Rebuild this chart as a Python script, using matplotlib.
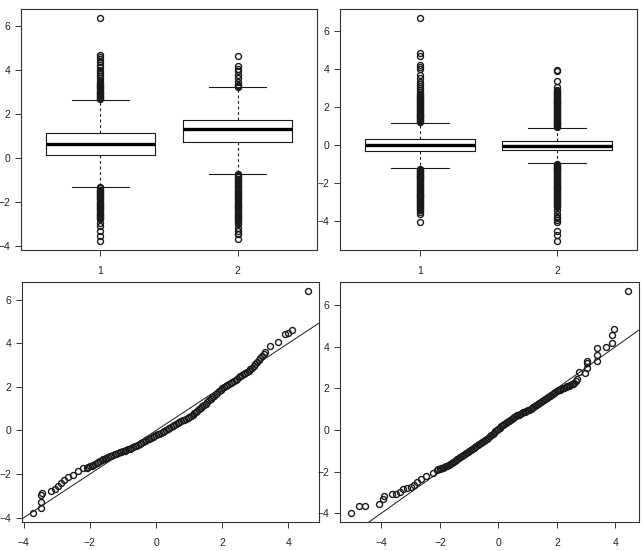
import matplotlib
matplotlib.use('Agg')
import matplotlib.pyplot as plt
from matplotlib.ticker import MultipleLocator

plt.rcParams['font.family'] = 'Liberation Sans'
plt.rcParams['font.size'] = 7.5

#%% box plot summaries (top row)

# left panel, groups 1 and 2
tl_med = [0.62, 1.29]
tl_q1 = [0.14, 0.71]
tl_q3 = [1.14, 1.71]
tl_lo = [-1.35, -0.75]
tl_hi = [2.63, 3.20]
tl_fliers_1 = [2.65, 2.7, 2.75, 2.8, 2.85, 2.9, 2.95, 3.0, 3.05, 3.1, 3.15, 3.2, 3.25, 3.3, 3.35, 3.4,
               3.5, 3.6, 3.7, 3.78, 3.89, 4.0, 4.12, 4.19, 4.35, 4.5, 4.58, 4.65, 6.35,
               -1.35, -1.4, -1.45, -1.5, -1.55, -1.6, -1.65, -1.7, -1.75, -1.8, -1.85, -1.9, -1.95,
               -2.0, -2.05, -2.1, -2.15, -2.2, -2.25, -2.3, -2.35, -2.4, -2.45, -2.5, -2.55, -2.6,
               -2.65, -2.7, -2.75, -2.8, -2.95, -3.1, -3.33, -3.56, -3.79]
tl_fliers_2 = [3.22, 3.26, 3.3, 3.43, 3.61, 3.76, 3.92, 4.04, 4.17, 4.62,
               -0.75, -0.8, -0.85, -0.9, -0.95, -1.0, -1.05, -1.1, -1.15, -1.2, -1.25, -1.3, -1.35,
               -1.4, -1.45, -1.5, -1.55, -1.6, -1.65, -1.7, -1.75, -1.8, -1.85, -1.9, -1.95, -2.0,
               -2.05, -2.1, -2.15, -2.2, -2.25, -2.3, -2.35, -2.4, -2.45, -2.5, -2.55, -2.6, -2.65,
               -2.7, -2.75, -2.8, -2.85, -2.9, -2.95, -3.0, -3.18, -3.33, -3.45, -3.48, -3.7]

# right panel, groups 1 and 2
tr_med = [0.0, -0.04]
tr_q1 = [-0.32, -0.28]
tr_q3 = [0.30, 0.19]
tr_lo = [-1.23, -0.96]
tr_hi = [1.17, 0.91]
tr_fliers_1 = [1.2, 1.25, 1.3, 1.35, 1.4, 1.45, 1.5, 1.55, 1.6, 1.65, 1.7, 1.75, 1.8, 1.85, 1.9,
               1.95, 2.0, 2.05, 2.1, 2.15, 2.2, 2.25, 2.3, 2.35, 2.4, 2.45, 2.5, 2.55, 2.6,
               2.7, 2.8, 2.9, 3.0, 3.1, 3.2, 3.3, 3.5, 3.68, 4.0, 4.12, 4.2, 4.65, 4.83, 6.67,
               -1.25, -1.3, -1.35, -1.4, -1.45, -1.5, -1.55, -1.6, -1.65, -1.7, -1.75, -1.8, -1.85,
               -1.9, -1.95, -2.0, -2.05, -2.1, -2.15, -2.2, -2.25, -2.3, -2.35, -2.4, -2.45, -2.5,
               -2.55, -2.6, -2.65, -2.7, -2.75, -2.8, -2.85, -2.9, -2.95, -3.0, -3.05, -3.1, -3.15,
               -3.2, -3.25, -3.3, -3.35, -3.42, -3.5, -3.6, -4.04]
tr_fliers_2 = [0.93, 0.98, 1.03, 1.08, 1.13, 1.18, 1.23, 1.28, 1.33, 1.38, 1.43, 1.48, 1.53, 1.58,
               1.63, 1.68, 1.73, 1.78, 1.83, 1.88, 1.93, 1.98, 2.03, 2.08, 2.13, 2.18, 2.23, 2.28,
               2.33, 2.38, 2.43, 2.48, 2.53, 2.58, 2.63, 2.68, 2.73, 2.78, 2.83, 2.9, 3.07, 3.38, 3.86, 3.92,
               -0.98, -1.03, -1.08, -1.13, -1.18, -1.23, -1.28, -1.33, -1.38, -1.43, -1.48, -1.53,
               -1.58, -1.63, -1.68, -1.73, -1.78, -1.83, -1.88, -1.93, -1.98, -2.03, -2.08, -2.13,
               -2.18, -2.23, -2.28, -2.33, -2.38, -2.43, -2.48, -2.53, -2.58, -2.63, -2.68, -2.73,
               -2.78, -2.83, -2.88, -2.93, -2.98, -3.03, -3.08, -3.13, -3.18, -3.26, -3.42, -3.6,
               -3.77, -3.85, -3.95, -4.04, -4.5, -4.74, -5.04]

#%% normal QQ points (bottom row)

# left panel: sparse tails first, then the dense middle of the curve
bl_theo = [-3.72, -3.47, -3.47, -3.47, -3.44, -3.17, -3.07, -2.97, -2.87, -2.79, -2.67, -2.52,
           -2.35, -2.22, -2.10,
           3.44, 3.67, 3.89, 4.0, 4.1, 4.59,
           -2.05, -2.0, -1.95, -1.9, -1.85, -1.8, -1.75, -1.7, -1.65, -1.6, -1.55, -1.5, -1.45,
           -1.4, -1.35, -1.3, -1.25, -1.2, -1.15, -1.1, -1.05, -1.0, -0.95, -0.9, -0.85, -0.8,
           -0.75, -0.7, -0.65, -0.6, -0.55, -0.5, -0.45, -0.4, -0.35, -0.3, -0.25, -0.2, -0.15,
           -0.1, -0.05, 0.0, 0.05, 0.1, 0.15, 0.2, 0.25, 0.3, 0.35, 0.4, 0.45, 0.5, 0.55, 0.6,
           0.65, 0.7, 0.75, 0.8, 0.85, 0.9, 0.95, 1.0, 1.05, 1.1, 1.15, 1.2, 1.25, 1.3, 1.35,
           1.4, 1.45, 1.5, 1.55, 1.6, 1.65, 1.7, 1.75, 1.8, 1.85, 1.9, 1.95, 2.0, 2.05, 2.1,
           2.15, 2.2, 2.25, 2.3, 2.35, 2.4, 2.45, 2.5, 2.55, 2.6, 2.65, 2.7, 2.75, 2.8, 2.85,
           2.9, 2.95, 3.0, 3.05, 3.1, 3.15, 3.2, 3.25, 3.3]
bl_samp = [-3.79, -3.56, -3.28, -2.98, -2.85, -2.78, -2.67, -2.55, -2.40, -2.25, -2.14, -2.03,
           -1.84, -1.73, -1.70,
           3.85, 4.06, 4.41, 4.45, 4.60, 6.40,
           -1.68, -1.65, -1.61, -1.58, -1.54, -1.50, -1.46, -1.42, -1.37, -1.33, -1.29, -1.25,
           -1.21, -1.18, -1.15, -1.12, -1.09, -1.06, -1.03, -1.01, -0.98, -0.96, -0.93, -0.90,
           -0.87, -0.84, -0.80, -0.76, -0.72, -0.69, -0.65, -0.62, -0.57, -0.53, -0.49, -0.45,
           -0.41, -0.37, -0.33, -0.30, -0.26, -0.22, -0.18, -0.14, -0.10, -0.06, -0.02, 0.03,
           0.07, 0.12, 0.16, 0.21, 0.25, 0.29, 0.33, 0.38, 0.42, 0.46, 0.50, 0.54, 0.58, 0.62,
           0.67, 0.73, 0.79, 0.85, 0.91, 0.97, 1.03, 1.10, 1.16, 1.23, 1.30, 1.38, 1.45, 1.52,
           1.59, 1.66, 1.73, 1.80, 1.87, 1.93, 1.98, 2.03, 2.08, 2.13, 2.18, 2.23, 2.28, 2.33,
           2.38, 2.43, 2.48, 2.53, 2.58, 2.63, 2.68, 2.74, 2.81, 2.88, 2.96, 3.05, 3.13, 3.22,
           3.31, 3.40, 3.52, 3.60]

# right panel: sparse tails first, then the dense middle of the curve
br_theo = [-5.04, -4.78, -4.57, -4.09, -3.94, -3.92, -3.63, -3.52, -3.37, -3.26, -3.12, -3.0,
           -2.89, -2.78, -2.66, -2.46, -2.25, -2.1,
           2.77, 2.95, 3.03, 3.03, 3.04, 3.38, 3.38, 3.38, 3.67, 3.9, 3.9, 3.94, 4.43,
           -2.05, -2.0, -1.95, -1.9, -1.85, -1.8, -1.75, -1.7, -1.65, -1.6, -1.55, -1.5, -1.45,
           -1.4, -1.35, -1.3, -1.25, -1.2, -1.15, -1.1, -1.05, -1.0, -0.95, -0.9, -0.85, -0.8,
           -0.75, -0.7, -0.65, -0.6, -0.55, -0.5, -0.45, -0.4, -0.35, -0.3, -0.25, -0.2, -0.15,
           -0.1, -0.05, 0.0, 0.05, 0.1, 0.15, 0.2, 0.25, 0.3, 0.35, 0.4, 0.45, 0.5, 0.55, 0.6,
           0.65, 0.7, 0.75, 0.8, 0.85, 0.9, 0.95, 1.0, 1.05, 1.1, 1.15, 1.2, 1.25, 1.3, 1.35,
           1.4, 1.45, 1.5, 1.55, 1.6, 1.65, 1.7, 1.75, 1.8, 1.85, 1.9, 1.95, 2.0, 2.05, 2.1,
           2.15, 2.2, 2.25, 2.3, 2.35, 2.4, 2.45, 2.5, 2.55, 2.6, 2.65, 2.7]
br_samp = [-4.00, -3.65, -3.65, -3.57, -3.33, -3.20, -3.10, -3.08, -3.00, -2.85, -2.80, -2.76,
           -2.64, -2.50, -2.37, -2.20, -2.08, -1.93,
           2.81, 2.76, 3.00, 3.21, 3.32, 3.32, 3.61, 3.96, 4.01, 4.20, 4.57, 4.85, 6.69,
           -1.89, -1.86, -1.84, -1.81, -1.78, -1.75, -1.71, -1.67, -1.63, -1.58, -1.54, -1.49,
           -1.45, -1.41, -1.37, -1.32, -1.27, -1.22, -1.17, -1.12, -1.07, -1.02, -0.98, -0.93,
           -0.89, -0.84, -0.79, -0.74, -0.69, -0.64, -0.60, -0.55, -0.49, -0.43, -0.37, -0.31,
           -0.25, -0.19, -0.13, -0.07, -0.01, 0.05, 0.11, 0.17, 0.23, 0.28, 0.34, 0.39, 0.44,
           0.49, 0.54, 0.58, 0.62, 0.66, 0.70, 0.73, 0.77, 0.80, 0.84, 0.87, 0.91, 0.95, 0.98,
           1.02, 1.06, 1.10, 1.14, 1.19, 1.23, 1.28, 1.33, 1.38, 1.43, 1.48, 1.53, 1.58, 1.63,
           1.68, 1.73, 1.78, 1.82, 1.86, 1.90, 1.94, 1.98, 2.01, 2.04, 2.07, 2.10, 2.13, 2.16,
           2.19, 2.23, 2.28, 2.35, 2.45]

# reference lines (qqline), intercept and slope
bl_line = (0.0, 1.0)
br_line = (0.0, 1.0)

#%% styles

ink = '#1a1a1a'
circle = dict(marker='o', mfc='none', mec=ink, ms=4.3, mew=1.0, linestyle='none')


def r_style(ax):
    for s in ax.spines.values():
        s.set_linewidth(0.8)
        s.set_color('#333333')
    ax.tick_params(direction='out', length=4.5, width=0.7, colors='#333333',
                   labelcolor='#222222', labelsize=7.5)
    ax.tick_params(axis='x', pad=7)
    ax.tick_params(axis='y', pad=3)


def r_lims(vals):
    lo, hi = min(vals), max(vals)
    ext = 0.04 * (hi - lo)
    return lo - ext, hi + ext


def boxes(ax, med, q1, q3, lo, hi, fliers):
    stats = []
    for i in range(2):
        stats.append(dict(med=med[i], q1=q1[i], q3=q3[i], whislo=lo[i], whishi=hi[i],
                          fliers=fliers[i]))
    ax.bxp(stats, positions=[1, 2], widths=0.8, capwidths=0.42,
           boxprops=dict(color=ink, lw=0.8),
           medianprops=dict(color='black', lw=2.4, solid_capstyle='butt'),
           whiskerprops=dict(color=ink, lw=0.8, linestyle=(0, (2.5, 2.5))),
           capprops=dict(color=ink, lw=0.8),
           flierprops=circle)
    ax.set_xlim(0.42, 2.58)
    ax.set_ylim(r_lims(fliers[0] + fliers[1] + lo + hi))
    ax.set_xticks([1, 2])
    ax.set_xticklabels(['1', '2'])
    ax.yaxis.set_major_locator(MultipleLocator(2))
    r_style(ax)


def qq(ax, theo, samp, line):
    ax.plot(theo, samp, **circle)
    ax.axline((0, line[0]), slope=line[1], color=ink, lw=0.7)
    ax.set_xlim(r_lims(theo))
    ax.set_ylim(r_lims(samp))
    ax.xaxis.set_major_locator(MultipleLocator(2))
    ax.yaxis.set_major_locator(MultipleLocator(2))
    r_style(ax)


#%% figure

fig = plt.figure(figsize=(6.42, 5.51), dpi=100)
ax_tl = fig.add_axes([21/642, 1-250/551, 296/642, 241/551])
ax_tr = fig.add_axes([340/642, 1-250/551, 297/642, 241/551])
ax_bl = fig.add_axes([22/642, 1-522/551, 297/642, 240/551])
ax_br = fig.add_axes([340/642, 1-522/551, 299/642, 240/551])

boxes(ax_tl, tl_med, tl_q1, tl_q3, tl_lo, tl_hi, [tl_fliers_1, tl_fliers_2])
boxes(ax_tr, tr_med, tr_q1, tr_q3, tr_lo, tr_hi, [tr_fliers_1, tr_fliers_2])
qq(ax_bl, bl_theo, bl_samp, bl_line)
qq(ax_br, br_theo, br_samp, br_line)

plt.savefig('out.png', dpi=100)
plt.close()
